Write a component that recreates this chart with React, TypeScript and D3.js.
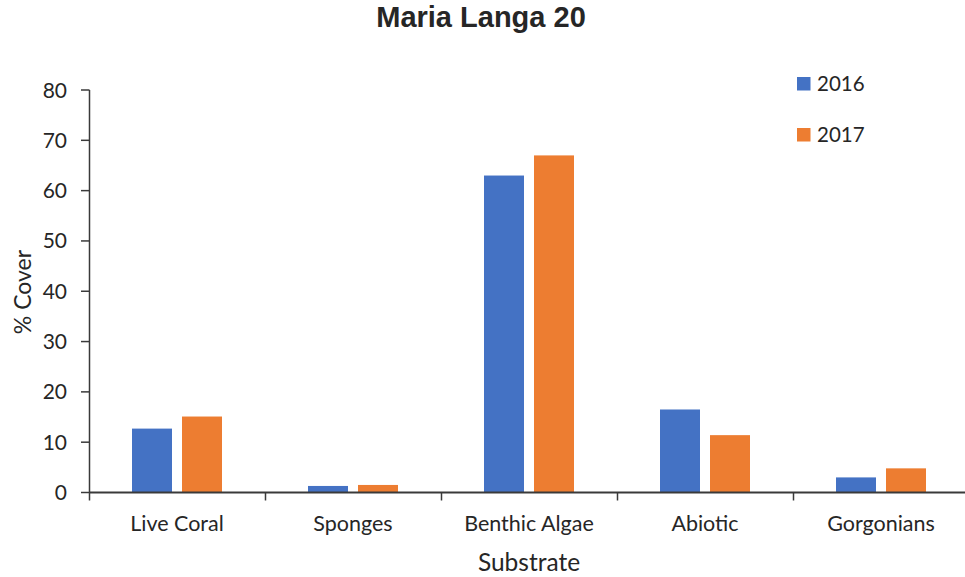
import React from 'react';
import * as d3 from 'd3';

// chart data
const categories = ['Live Coral', 'Sponges', 'Benthic Algae', 'Abiotic', 'Gorgonians'];
const seriesNames = ['2016', '2017'];
const values2016 = [12.7, 1.3, 63.0, 16.5, 3.0];
const values2017 = [15.1, 1.5, 67.0, 11.4, 4.8];
const yTicks = [0, 10, 20, 30, 40, 50, 60, 70, 80];

const colors = ['#4472C4', '#ED7D31'];
const W = 965;
const H = 577;
const FONT = 'Lato, "Open Sans", sans-serif';

const App: React.FC = () => {
  const seriesValues = [values2016, values2017];

  // Scales
  const x0 = d3.scaleBand<string>().domain(categories).range([89, 969]).padding(0);
  const x1 = d3
    .scaleBand<string>()
    .domain(seriesNames)
    .range([43, 133])
    .paddingInner(0.2)
    .paddingOuter(0);
  const y = d3.scaleLinear().domain([0, 80]).range([492.5, 90]);

  const axisColor = '#3a3a3a';
  const textColor = '#262626';

  return (
    <svg width={W} height={H} style={{ display: 'block', position: 'absolute', left: 0, top: 0 }}>
      <rect width={W} height={H} fill="#fff" />

      {/* Title */}
      <text
        x={481}
        y={27}
        textAnchor="middle"
        fontFamily='"Liberation Sans", Arial, sans-serif'
        fontWeight="bold"
        fontSize={29}
        fill={textColor}
      >
        Maria Langa 20
      </text>

      {/* Bars */}
      {categories.map((c, i) => (
        <g key={c} transform={`translate(${x0(c)},0)`}>
          {seriesNames.map((s, j) => (
            <rect
              key={s}
              x={x1(s)}
              y={y(seriesValues[j][i])}
              width={x1.bandwidth()}
              height={y(0) - y(seriesValues[j][i])}
              fill={colors[j]}
            />
          ))}
        </g>
      ))}

      {/* Y axis */}
      <line x1={89.5} x2={89.5} y1={90} y2={493} stroke={axisColor} strokeWidth={1.5} />
      {yTicks.map((t) => (
        <g key={t}>
          <line x1={81} x2={89.5} y1={y(t)} y2={y(t)} stroke={axisColor} strokeWidth={1.5} />
          <text
            x={67}
            y={y(t) + 7.5}
            textAnchor="end"
            fontFamily={FONT}
            fontSize={21}
            fill={textColor}
          >
            {t}
          </text>
        </g>
      ))}

      {/* X axis */}
      <line x1={89} x2={W} y1={y(0)} y2={y(0)} stroke={axisColor} strokeWidth={2} />
      {categories.map((c) => (
        <line
          key={'t' + c}
          x1={(x0(c) as number) + 0.5}
          x2={(x0(c) as number) + 0.5}
          y1={y(0)}
          y2={y(0) + 8}
          stroke={axisColor}
          strokeWidth={1.5}
        />
      ))}
      {categories.map((c) => (
        <text
          key={'l' + c}
          x={(x0(c) as number) + x0.bandwidth() / 2}
          y={531}
          textAnchor="middle"
          fontFamily={FONT}
          fontSize={21.5}
          fill={textColor}
        >
          {c}
        </text>
      ))}

      {/* Axis titles */}
      <text x={529} y={571} textAnchor="middle" fontFamily={FONT} fontSize={24.5} fill={textColor}>
        Substrate
      </text>
      <text
        transform="translate(31,292) rotate(-90)"
        textAnchor="middle"
        fontFamily={FONT}
        fontSize={23}
        fill={textColor}
      >
        % Cover
      </text>

      {/* Legend */}
      {seriesNames.map((s, j) => (
        <g key={'lg' + s} transform={`translate(797,${77 + j * 51})`}>
          <rect width={13.5} height={13.5} fill={colors[j]} />
          <text x={20} y={14} fontFamily={FONT} fontSize={20.5} fill={textColor}>
            {s}
          </text>
        </g>
      ))}
    </svg>
  );
};

export default App;
